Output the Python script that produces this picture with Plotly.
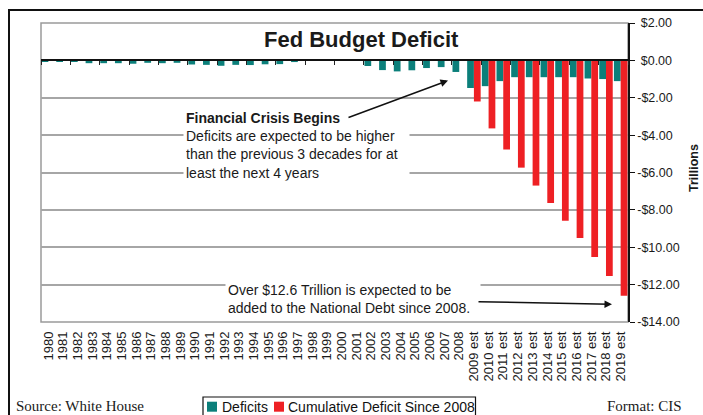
import plotly.graph_objects as go

# ---- data (trillions of dollars) ----
years = [str(y) for y in range(1980, 2009)] + [f"{y} est" for y in range(2009, 2020)]

deficits = [-0.07, -0.07, -0.08, -0.15, -0.15, -0.15, -0.18, -0.13, -0.15, -0.13,
            -0.22, -0.24, -0.29, -0.24, -0.25, -0.21, -0.20, -0.09, -0.02, 0.00,
            0.06, -0.02, -0.30, -0.52, -0.59, -0.53, -0.41, -0.36, -0.62,
            -1.48, -1.38, -1.11, -0.90, -0.90, -0.90, -0.90, -0.90, -0.97, -1.00, -1.11]

cumulative = [None] * 29 + [-2.20, -3.64, -4.77, -5.74, -6.70, -7.63, -8.58,
                            -9.50, -10.52, -11.54, -12.60]

y_ticks = [2, 0, -2, -4, -6, -8, -10, -12, -14]
y_ticktext = [("-$%.2f" % abs(v)) if v < 0 else ("\u00a0$%.2f" % v) for v in y_ticks]

TEAL = "#0B7F7A"
RED = "#EE2024"
GRID = "#A6A6A6"

W, H = 703, 415
ML, MR, MT, MB = 41, 75, 23, 93
PW, PH = W - ML - MR, H - MT - MB


def px(xp):
    """page pixel x -> paper x"""
    return (xp - ML) / PW


def py(yp):
    """page pixel y -> paper y"""
    return (H - MB - yp) / PH


fig = go.Figure()
fig.add_trace(go.Bar(x=years, y=deficits, name="Deficits", marker_color=TEAL,
                     marker_line_width=0))
fig.add_trace(go.Bar(x=years, y=cumulative, name="Cumulative Deficit Since 2008",
                     marker_color=RED, marker_line_width=0))
# carrier for the category tick marks along the zero line
fig.add_trace(go.Scatter(x=years, y=deficits, xaxis="x2", mode="markers",
                         marker=dict(opacity=0), hoverinfo="skip", showlegend=False))

sans = "Liberation Sans, Arial, sans-serif"
serif = "Liberation Serif, Times New Roman, serif"

annotations = [
    # chart title
    dict(text="<b>Fed Budget Deficit</b>", x=px(361), y=py(40), xref="paper", yref="paper",
         showarrow=False, font=dict(family=sans, size=22, color="#1a1a1a"),
         xanchor="center", yanchor="middle"),
    # crisis note
    dict(text="<b>Financial Crisis Begins</b><br>Deficits are expected to be higher<br>"
              "than the previous 3 decades for at<br>least the next 4 years",
         x=px(183), y=py(107), xref="paper", yref="paper", showarrow=False,
         align="left", xanchor="left", yanchor="top", bgcolor="white", borderpad=2,
         width=221, font=dict(family=sans, size=14, color="#1a1a1a")),
    dict(text="", x=px(448), y=py(80.5), xref="paper", yref="paper", ax=347 - 448,
         ay=118 - 80.5, showarrow=True, arrowhead=2, arrowsize=1, arrowwidth=1.5,
         arrowcolor="#111"),
    # cumulative note
    dict(text="Over $12.6 Trillion is expected to be<br>added to the National Debt since 2008.",
         x=px(225), y=py(279), xref="paper", yref="paper", showarrow=False,
         align="left", xanchor="left", yanchor="top", bgcolor="white", borderpad=2,
         width=250, font=dict(family=sans, size=14, color="#1a1a1a")),
    dict(text="", x=px(612), y=py(304.3), xref="paper", yref="paper", ax=477 - 612,
         ay=301.7 - 304.3, showarrow=True, arrowhead=2, arrowsize=1, arrowwidth=1.5,
         arrowcolor="#111"),
    # axis title
    dict(text="<b>Trillions</b>", x=px(694), y=py(168), xref="paper", yref="paper",
         showarrow=False, textangle=-90, xanchor="center", yanchor="middle",
         font=dict(family=sans, size=12.5, color="#1a1a1a")),
    # footer
    dict(text="Source: White House", x=px(14), y=py(406), xref="paper", yref="paper",
         showarrow=False, xanchor="left", yanchor="middle",
         font=dict(family=serif, size=15, color="#1a1a1a")),
    dict(text="Format: CIS", x=px(684), y=py(406), xref="paper", yref="paper",
         showarrow=False, xanchor="right", yanchor="middle",
         font=dict(family=serif, size=15, color="#1a1a1a")),
    # legend labels
    dict(text="Deficits", x=px(220), y=py(406.5), xref="paper", yref="paper",
         showarrow=False, xanchor="left", yanchor="middle",
         font=dict(family=sans, size=14, color="#111")),
    dict(text="Cumulative Deficit Since 2008", x=px(286), y=py(406.5), xref="paper",
         yref="paper", showarrow=False, xanchor="left", yanchor="middle",
         font=dict(family=sans, size=14, color="#111")),
]

shapes = [
    # outer frame
    dict(type="rect", xref="paper", yref="paper", x0=px(9), x1=px(730), y0=py(440),
         y1=py(10), line=dict(color="#111", width=2), fillcolor="rgba(0,0,0,0)", layer="below"),
    # plot-area border
    dict(type="rect", xref="paper", yref="paper", x0=0, x1=1, y0=0, y1=1,
         line=dict(color="#9a9a9a", width=1.5), fillcolor="rgba(0,0,0,0)", layer="below"),
    # legend box and swatches
    dict(type="rect", xref="paper", yref="paper", x0=px(203), x1=px(475.5), y0=py(430),
         y1=py(397), line=dict(color="#111", width=1.2), fillcolor="white"),
    dict(type="rect", xref="paper", yref="paper", x0=px(207), x1=px(217), y0=py(411.7),
         y1=py(401.7), line=dict(width=0), fillcolor=TEAL),
    dict(type="rect", xref="paper", yref="paper", x0=px(274), x1=px(284), y0=py(411.7),
         y1=py(401.7), line=dict(width=0), fillcolor=RED),
]

fig.update_layout(
    width=W, height=H,
    margin=dict(l=ML, r=MR, t=MT, b=MB, pad=0),
    paper_bgcolor="white", plot_bgcolor="white",
    barmode="group", bargap=0.08, bargroupgap=0,
    showlegend=False,
    font=dict(family=sans, color="#1a1a1a"),
    xaxis=dict(type="category", categoryorder="array", categoryarray=years,
               range=[-0.5, len(years) - 0.5], tickangle=-90,
               tickmode="array", tickvals=years, ticktext=years,
               tickfont=dict(size=13, family=sans, color="#1a1a1a"),
               ticks="", showgrid=False, showline=False, zeroline=False,
               ticklabelstandoff=6),
    xaxis2=dict(type="category", categoryorder="array", categoryarray=years,
                range=[-0.5, len(years) - 0.5], overlaying="x", anchor="free",
                position=2 / 16 * 7, showticklabels=False, showgrid=False,
                ticks="outside", ticklen=4, tickwidth=1, tickcolor="#222",
                tickson="boundaries", showline=True, linecolor="#111", linewidth=1.5),
    yaxis=dict(side="right", range=[-14, 2], tickvals=y_ticks, ticktext=y_ticktext,
               tickfont=dict(size=12.5, family=sans, color="#1a1a1a"),
               showline=True, linecolor="#111", linewidth=1.5,
               ticks="outside", ticklen=5, tickcolor="#111",
               showgrid=True, gridcolor=GRID, gridwidth=1.5,
               zeroline=True, zerolinecolor="#111", zerolinewidth=1.5),
    annotations=annotations,
    shapes=shapes,
)

fig.write_html("out.html")
